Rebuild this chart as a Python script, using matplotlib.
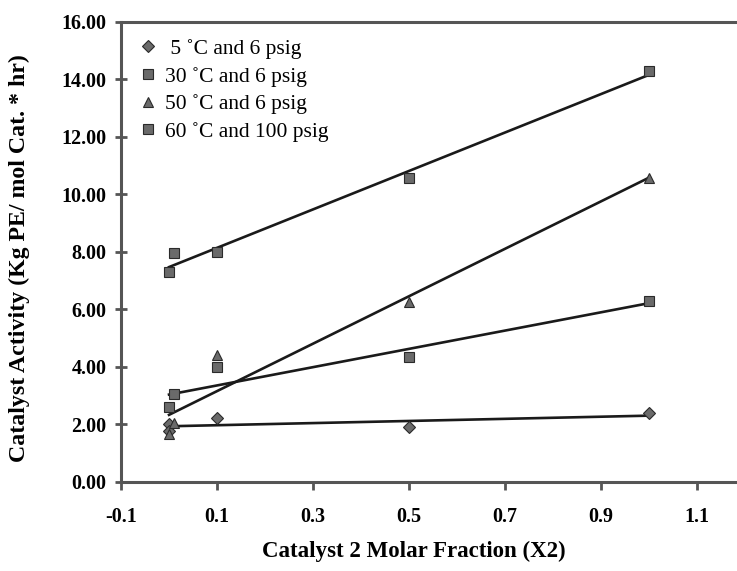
import matplotlib
matplotlib.use("Agg")
import matplotlib.pyplot as plt
import numpy as np

# Data
x_5C = [0.0, 0.0, 0.1, 0.5, 1.0]
y_5C = [2.00, 1.75, 2.20, 1.90, 2.38]
x_30C = [0.0, 0.01, 0.1, 0.5, 1.0]
y_30C = [2.60, 3.05, 4.00, 4.33, 6.29]
x_50C = [0.0, 0.01, 0.1, 0.5, 1.0]
y_50C = [1.65, 2.05, 4.40, 6.26, 10.55]
x_60C = [0.0, 0.01, 0.1, 0.5, 1.0]
y_60C = [7.30, 7.95, 8.00, 10.55, 14.29]
labels = [" 5 \u02daC and 6 psig", "30 \u02daC and 6 psig",
          "50 \u02daC and 6 psig", "60 \u02daC and 100 psig"]
markers = ["D", "s", "^", "s"]
msizes = [6.0, 7.5, 7.5, 7.5]
x_ticks = [-0.1, 0.1, 0.3, 0.5, 0.7, 0.9, 1.1]
y_ticks = [0, 2, 4, 6, 8, 10, 12, 14, 16]

series = [(x_5C, y_5C), (x_30C, y_30C), (x_50C, y_50C), (x_60C, y_60C)]

plt.rcParams['font.family'] = ["Liberation Serif", "DejaVu Serif"]

fig = plt.figure(figsize=(7.37, 5.71), dpi=100)
ax = fig.add_axes([0.1642, 0.1564, 0.8467, 0.8056])

face = "#6a6a6a"
edge = "#2a2a2a"

for (xs, ys), lab, mk, ms in zip(series, labels, markers, msizes):
    ax.plot(xs, ys, linestyle="none", marker=mk, markersize=ms,
            markerfacecolor=face, markeredgecolor=edge, markeredgewidth=0.8,
            label=lab, zorder=3)
    k, b = np.polyfit(xs, ys, 1)
    xf = np.array([0.0, 1.0])
    ax.plot(xf, k * xf + b, color="#1a1a1a", linewidth=1.9, zorder=2)

ax.set_xlim(-0.1, 1.2)
ax.set_ylim(0, 16)
ax.set_xticks(x_ticks)
ax.set_xticklabels([f"{v:.1f}" for v in x_ticks])
ax.set_yticks(y_ticks)
ax.set_yticklabels([f"{v:.2f}" for v in y_ticks])

for s in ["left", "top", "bottom", "right"]:
    ax.spines[s].set_linewidth(2.2)
    ax.spines[s].set_color("#555555")

ax.tick_params(axis="x", direction="out", length=6, width=2, color="#555555",
               pad=12, labelsize=14.5)
ax.tick_params(axis="y", direction="inout", length=9, width=2, color="#555555",
               pad=6, labelsize=14.5)
for t in ax.get_xticklabels() + ax.get_yticklabels():
    t.set_fontweight("bold")

ax.set_xlabel("Catalyst 2 Molar Fraction (X2)",
              fontweight="bold", fontsize=16.5)
ax.xaxis.set_label_coords(0.47, -0.128)
ax.set_ylabel("Catalyst Activity (Kg PE/ mol Cat. * hr)",
              fontweight="bold", fontsize=17.2)
ax.yaxis.set_label_coords(-0.146, 0.486)

leg = ax.legend(loc="upper left", frameon=False,
                prop={"family": "Liberation Serif", "size": 15.5},
                handletextpad=0.35, handlelength=0.9, labelspacing=0.35,
                borderaxespad=0.4, bbox_to_anchor=(0.0, 1.0))

fig.savefig("out.png", dpi=100)
